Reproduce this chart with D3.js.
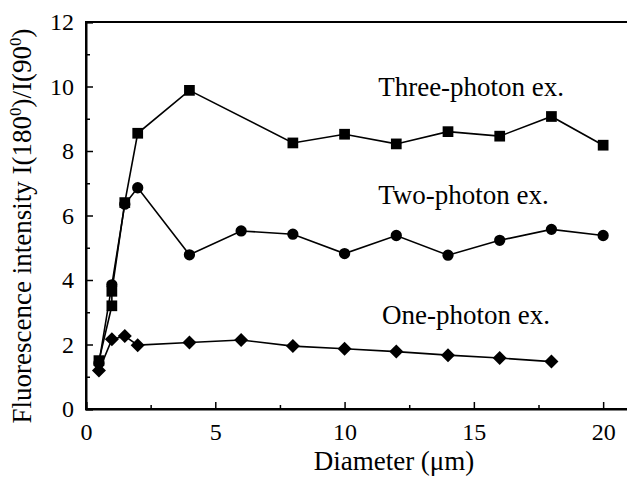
<!DOCTYPE html>
<html>
<head>
<meta charset="utf-8">
<script src="https://cdn.jsdelivr.net/npm/d3@7"></script>
<style>
  body { margin: 0; background: #fff; }
  text { font-family: 'Liberation Serif', 'Times New Roman', serif; fill: #000; }
</style>
</head>
<body>
<script>
// data
let threeX = [0.5, 1, 1, 1.5, 2, 4, 8, 10, 12, 14, 16, 18, 20]
let threeY = [1.5, 3.2, 3.65, 6.4, 8.55, 9.88, 8.25, 8.52, 8.22, 8.6, 8.46, 9.07, 8.18]

let twoX = [0.5, 1, 1.5, 2, 4, 6, 8, 10, 12, 14, 16, 18, 20]
let twoY = [1.42, 3.85, 6.35, 6.86, 4.78, 5.52, 5.42, 4.82, 5.38, 4.77, 5.23, 5.57, 5.38]

let oneX = [0.5, 1, 1.5, 2, 4, 6, 8, 10, 12, 14, 16, 18]
let oneY = [1.19, 2.16, 2.26, 1.98, 2.06, 2.14, 1.95, 1.87, 1.78, 1.67, 1.58, 1.47]

let xTicks = [0, 5, 10, 15, 20]
let yTicks = [0, 2, 4, 6, 8, 10, 12]

let width = 627
let height = 485
let margin = { top: 22, right: -2, bottom: 76, left: 86 }

let svg = d3.select('body').append('svg')
  .attr('width', width)
  .attr('height', height)

let x = d3.scaleLinear().domain([0, 21]).range([margin.left, width - margin.right])
let y = d3.scaleLinear().domain([0, 12]).range([height - margin.bottom, margin.top])

// frame
svg.append('rect')
  .attr('x', x(0)).attr('y', y(12))
  .attr('width', x(21) - x(0)).attr('height', y(0) - y(12))
  .attr('fill', 'none').attr('stroke', '#000').attr('stroke-width', 2)

// bottom axis, ticks point inward
let xAxis = svg.append('g')
  .attr('transform', `translate(0,${y(0)})`)
  .call(d3.axisBottom(x).tickValues(xTicks).tickSize(-7).tickPadding(14).tickFormat(d3.format('d')))
xAxis.select('.domain').attr('stroke-width', 2)
xAxis.selectAll('.tick line').attr('stroke-width', 1.5)
xAxis.selectAll('text').style('font-size', '24px').style('font-family', "'Liberation Serif', serif")
svg.append('g')
  .attr('transform', `translate(0,${y(0)})`)
  .call(d3.axisBottom(x).tickValues(d3.range(2.5, 21, 5)).tickSize(-4).tickFormat(''))
  .call(g => g.select('.domain').remove())
  .selectAll('line').attr('stroke-width', 1.5)

// left axis
let yAxis = svg.append('g')
  .attr('transform', `translate(${x(0)},0)`)
  .call(d3.axisLeft(y).tickValues(yTicks).tickSize(-7).tickPadding(12).tickFormat(d3.format('d')))
yAxis.select('.domain').attr('stroke-width', 2)
yAxis.selectAll('.tick line').attr('stroke-width', 1.5)
yAxis.selectAll('text').style('font-size', '24px').style('font-family', "'Liberation Serif', serif")
svg.append('g')
  .attr('transform', `translate(${x(0)},0)`)
  .call(d3.axisLeft(y).tickValues(d3.range(1, 12, 2)).tickSize(-4).tickFormat(''))
  .call(g => g.select('.domain').remove())
  .selectAll('line').attr('stroke-width', 1.5)

let line = d3.line().x(d => x(d[0])).y(d => y(d[1]))

function drawSeries (xs, ys, symbol, size) {
  let pts = d3.zip(xs, ys)
  svg.append('path')
    .datum(pts)
    .attr('d', line)
    .attr('fill', 'none')
    .attr('stroke', '#000')
    .attr('stroke-width', 1.6)
  svg.selectAll(null)
    .data(pts)
    .enter().append('path')
    .attr('transform', d => `translate(${x(d[0])},${y(d[1])})`)
    .attr('d', d3.symbol().type(symbol).size(size))
    .attr('fill', '#000')
}

drawSeries(oneX, oneY, d3.symbolDiamond2, 125)
drawSeries(twoX, twoY, d3.symbolCircle, 100)
drawSeries(threeX, threeY, d3.symbolSquare, 115)

// series labels
let labels = [
  { text: 'Three-photon ex.', x: 11.3, y: 9.7 },
  { text: 'Two-photon ex.', x: 11.3, y: 6.36 },
  { text: 'One-photon ex.', x: 11.45, y: 2.64 }
]
svg.selectAll('.lbl')
  .data(labels)
  .enter().append('text')
  .attr('class', 'lbl')
  .attr('x', d => x(d.x))
  .attr('y', d => y(d.y))
  .style('font-size', '27px')
  .text(d => d.text)

// axis titles
svg.append('text')
  .attr('x', 394)
  .attr('y', 470)
  .attr('text-anchor', 'middle')
  .style('font-size', '27px')
  .text('Diameter (\u03bcm)')

let yt = svg.append('text')
  .attr('transform', 'translate(31,226) rotate(-90)')
  .attr('text-anchor', 'middle')
  .style('font-size', '27px')
yt.append('tspan').text('Fluorescence intensity I(180')
yt.append('tspan').attr('dy', -10).style('font-size', '17px').text('0')
yt.append('tspan').attr('dy', 10).text(')/I(90')
yt.append('tspan').attr('dy', -10).style('font-size', '17px').text('0')
yt.append('tspan').attr('dy', 10).text(')')
</script>
</body>
</html>
